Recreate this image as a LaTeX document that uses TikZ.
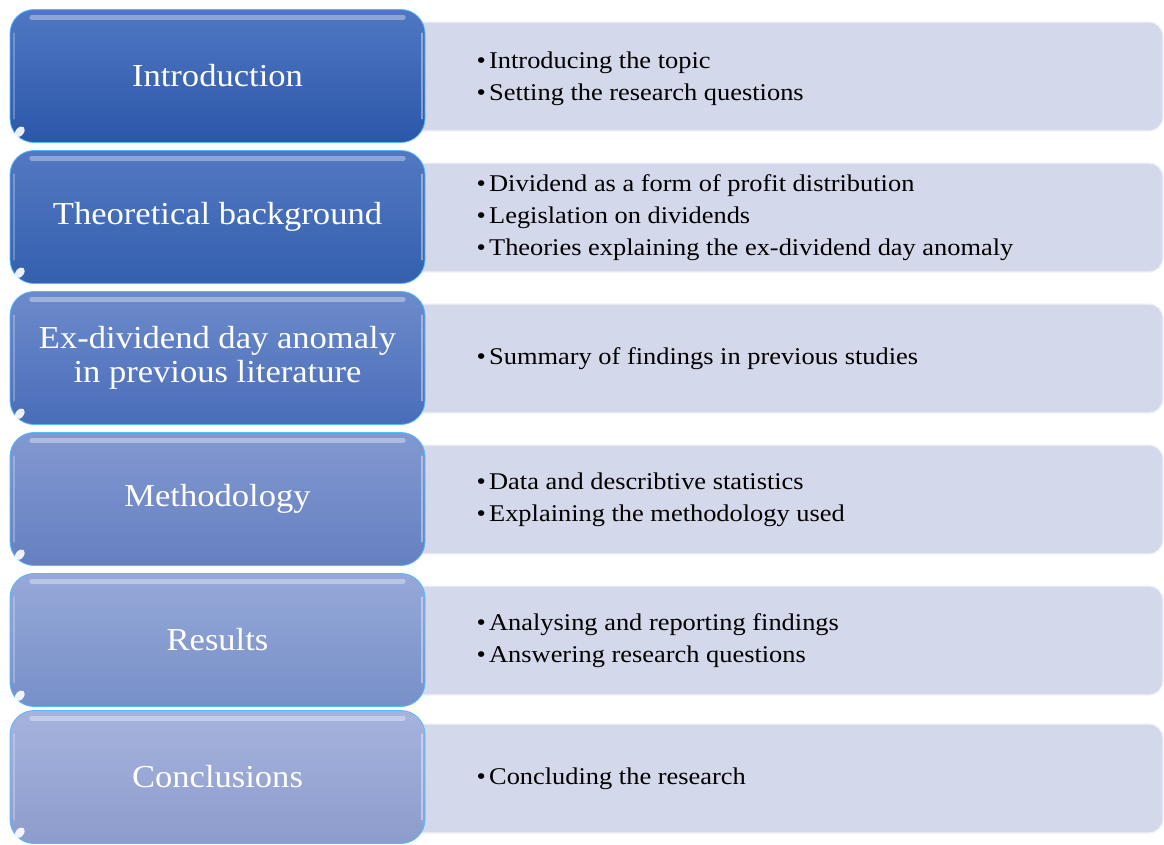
\documentclass[tikz,border=0pt]{standalone}
\usepackage{fontspec}
\setmainfont{Liberation Serif}
\begin{document}
\begin{tikzpicture}[x=1pt,y=-1pt,
  headtext/.style={minimum width=415pt, minimum height=133pt,
    inner sep=0pt, text=white, align=center,
    font=\fontsize{32}{34}\selectfont},
  headshape/.style={rounded corners=24pt, draw=white!55!blue!60!cyan, line width=0.8pt},
  itembox/.style={rounded corners=14pt, minimum width=763pt, minimum height=109pt,
    inner sep=0pt, fill=itemfill, draw=white!70!itemfill, line width=1.2pt},
  itemtext/.style={anchor=west, align=left, inner sep=0pt, text=black, xscale=1.1,
    font=\fontsize{24}{32}\selectfont},
  gloss/.style={white, opacity=0.35, line width=5pt, line cap=round},
  rim/.style={white, opacity=0.4, line width=2pt, line cap=round},
  spot/.style={white, opacity=0.9}
]
\definecolor{itemfill}{HTML}{D3D8EA}
\definecolor{hA}{HTML}{4F77C3}\definecolor{hAb}{HTML}{2C57A9}
\definecolor{hB}{HTML}{5378C2}\definecolor{hBb}{HTML}{3460AE}
\definecolor{hC}{HTML}{6D8BCB}\definecolor{hCb}{HTML}{4A6DB9}
\definecolor{hD}{HTML}{8298D1}\definecolor{hDb}{HTML}{6580C1}
\definecolor{hE}{HTML}{96A8D9}\definecolor{hEb}{HTML}{7790C8}
\definecolor{hF}{HTML}{A6B3DD}\definecolor{hFb}{HTML}{8C9CCC}
\newcommand{\bul}{•\hspace{3pt}}
\useasboundingbox (0,0) rectangle (1164,844);
\fill[white] (0,0) rectangle (1164,844);

% item panels behind the headings
\node[itembox] (p1) at (781.5, 76.5) {};
\node[itembox] (p2) at (781.5, 217.5) {};
\node[itembox] (p3) at (781.5, 358.5) {};
\node[itembox] (p4) at (781.5, 499.5) {};
\node[itembox] (p5) at (781.5, 640.5) {};
\node[itembox] (p6) at (781.5, 778.5) {};

% heading backgrounds: rounded, shaded top to bottom
\shade[headshape, top color=hA, bottom color=hAb] (10,9.5) rectangle (425,142.5);
\shade[headshape, top color=hB, bottom color=hBb] (10,150.5) rectangle (425,283.5);
\shade[headshape, top color=hC, bottom color=hCb] (10,291.5) rectangle (425,424.5);
\shade[headshape, top color=hD, bottom color=hDb] (10,432.5) rectangle (425,565.5);
\shade[headshape, top color=hE, bottom color=hEb] (10,573.5) rectangle (425,706.5);
\shade[headshape, top color=hF, bottom color=hFb] (10,710.5) rectangle (425,843.5);

% heading labels
\node[headtext] (h1) at (217.5, 76) {\scalebox{1.08}[1]{Introduction}};
\node[headtext] (h2) at (217.5, 217) {\scalebox{1.08}[1]{Theoretical background}};
\node[headtext] (h3) at (217.5, 358) {\scalebox{1.08}[1]{Ex-dividend day anomaly}\\\scalebox{1.08}[1]{in previous literature}};
\node[headtext] (h4) at (217.5, 499) {\scalebox{1.08}[1]{Methodology}};
\node[headtext] (h5) at (217.5, 640) {\scalebox{1.08}[1]{Results}};
\node[headtext] (h6) at (217.5, 777) {\scalebox{1.08}[1]{Conclusions}};

% glossy highlights on each heading
\foreach \h in {h1,h2,h3,h4,h5,h6}{
  \draw[gloss] ([xshift=22pt,yshift=-8pt]\h.north west) -- ([xshift=-22pt,yshift=-8pt]\h.north east);
  \draw[rim] ([xshift=-3pt,yshift=-24pt]\h.north east) -- ([xshift=-3pt,yshift=24pt]\h.south east);
  \draw[rim, opacity=0.25] ([xshift=4pt,yshift=-24pt]\h.north west) -- ([xshift=4pt,yshift=24pt]\h.south west);
  \fill[spot] ([xshift=10pt,yshift=11pt]\h.south west) circle[x radius=4pt, y radius=6pt, rotate=-40];
}

% item lists
\node[itemtext] (t1) at ([xshift=77pt,yshift=-2pt]p1.west) {\bul Introducing the topic\\\bul Setting the research questions};
\node[itemtext] (t2) at ([xshift=77pt]p2.west) {\bul Dividend as a form of profit distribution\\\bul Legislation on dividends\\\bul Theories explaining the ex-dividend day anomaly};
\node[itemtext] (t3) at ([xshift=77pt]p3.west) {\bul Summary of findings in previous studies};
\node[itemtext] (t4) at ([xshift=77pt]p4.west) {\bul Data and describtive statistics\\\bul Explaining the methodology used};
\node[itemtext] (t5) at ([xshift=77pt]p5.west) {\bul Analysing and reporting findings\\\bul Answering research questions};
\node[itemtext] (t6) at ([xshift=77pt]p6.west) {\bul Concluding the research};
\end{tikzpicture}
\end{document}
